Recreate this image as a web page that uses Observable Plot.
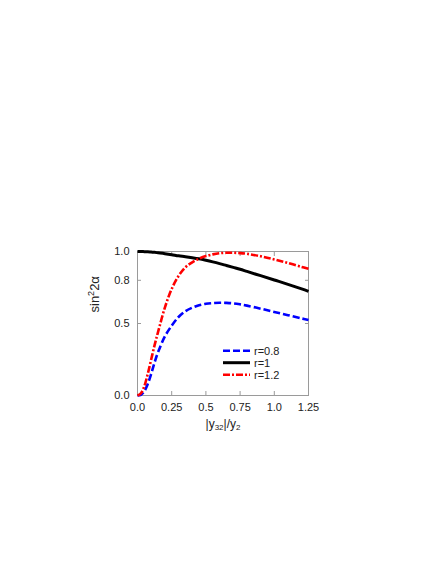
<!DOCTYPE html>
<html><head><meta charset="utf-8">
<script src="https://cdn.jsdelivr.net/npm/d3@7"></script>
<script src="https://cdn.jsdelivr.net/npm/@observablehq/plot@0.6"></script>
<style>
body{margin:0;background:#fff;}
#wrap{position:relative;width:436px;height:564px;font-family:"Liberation Sans",Arial,sans-serif;}
#legend{position:absolute;left:0;top:0;pointer-events:none;}
</style></head><body><div id="wrap"></div>
<script>
// ---- data ----
const xValues = [0,0.025,0.05,0.075,0.1,0.125,0.15,0.2,0.25,0.3,0.35,0.4,0.45,0.5,0.55,0.6,0.65,0.7,0.75,0.8,0.9,1.0,1.1,1.2,1.25];
const r08 = [0,0.005,0.03,0.08,0.15,0.23,0.30,0.41,0.485,0.545,0.585,0.61,0.627,0.637,0.642,0.644,0.643,0.64,0.633,0.624,0.603,0.58,0.558,0.535,0.524];
const r10 = [1.0,1.0,0.999,0.998,0.996,0.994,0.991,0.985,0.978,0.97,0.964,0.957,0.949,0.939,0.928,0.916,0.903,0.89,0.877,0.862,0.832,0.802,0.772,0.74,0.723];
const r12 = [0,0.015,0.065,0.15,0.25,0.35,0.44,0.61,0.74,0.83,0.89,0.925,0.95,0.968,0.98,0.988,0.991,0.991,0.989,0.984,0.967,0.945,0.92,0.893,0.88];
const seriesNames = ["r=0.8","r=1","r=1.2"];
const xTicks = [0,0.25,0.5,0.75,1,1.25];
const xTickLabels = ["0.0","0.25","0.5","0.75","1.0","1.25"];
const yTicks = [0,0.5,0.8,1];
const yTickLabels = ["0.0","0.5","0.8","1.0"];
const xLabel = "|y32|/y2";
const yLabel = "sin22α";

// ---- styles ----
const seriesStyles = [
  {stroke:"#0000ff", dash:"7,3", width:2.6},
  {stroke:"#000000", dash:null, width:3},
  {stroke:"#ff0000", dash:"7,2,2,2", width:2.6}
];
const allSeries = [r08, r10, r12];
const rows = allSeries.flatMap((ys, s) => xValues.map((x, i) => ({series: seriesNames[s], x, y: ys[i]})));

const W = 436, H = 564;
const mL = 137, mR = 128, mT = 251, mB = 169;

const lineMarks = seriesNames.map((name, s) =>
  Plot.line(rows.filter(d => d.series === name), {
    x: "x", y: "y", curve: "catmull-rom",
    stroke: seriesStyles[s].stroke, strokeWidth: seriesStyles[s].width,
    strokeDasharray: seriesStyles[s].dash, strokeLinecap: "butt"
  })
);

const chart = Plot.plot({
  width: W, height: H,
  marginTop: mT, marginBottom: mB, marginLeft: mL, marginRight: mR,
  style: {fontFamily: "'Liberation Sans', Arial, sans-serif", fontSize: "11px", color: "#222", background: "white", overflow: "visible"},
  x: {domain: [0, 1.25]},
  y: {domain: [0, 1]},
  marks: [
    Plot.frame({stroke: "#9a9a9a", strokeWidth: 1}),
    Plot.axisX({anchor: "bottom", ticks: xTicks, tickFormat: d => xTickLabels[xTicks.indexOf(d)], tickSize: -4, tickPadding: 12, stroke: "#9a9a9a", fill: "#222", label: null}),
    Plot.axisX({anchor: "top", ticks: xTicks, tickFormat: () => "", tickSize: -4, stroke: "#9a9a9a", label: null}),
    Plot.axisY({anchor: "left", ticks: yTicks, tickFormat: d => yTickLabels[yTicks.indexOf(d)], tickSize: -4, tickPadding: 12, stroke: "#9a9a9a", fill: "#222", label: null}),
    Plot.axisY({anchor: "right", ticks: yTicks, tickFormat: () => "", tickSize: -4, stroke: "#9a9a9a", label: null}),
    ...lineMarks,
    Plot.text([xLabel], {text: d => d, frameAnchor: "bottom", dy: 32, fontSize: 12, fill: "#222", className: "xlab"}),
    Plot.text([yLabel], {text: d => d, frameAnchor: "left", rotate: -90, dx: -43, dy: -11, fontSize: 13, fill: "#222", className: "ylab"})
  ]
});

const wrap = document.getElementById("wrap");
wrap.appendChild(chart);

// sub/superscripts in axis labels
{
  const xt = d3.select(chart).select(".xlab text");
  xt.text(null);
  xt.append("tspan").text("|y");
  xt.append("tspan").attr("font-size", "8px").attr("dy", "2.5").text("32");
  xt.append("tspan").attr("dy", "-2.5").text("|/y");
  xt.append("tspan").attr("font-size", "8px").attr("dy", "2.5").text("2");
  const yt = d3.select(chart).select(".ylab text");
  yt.text(null);
  yt.append("tspan").text("sin");
  yt.append("tspan").attr("font-size", "9px").attr("dy", "-5").text("2");
  yt.append("tspan").attr("dy", "5").text("2α");
}

// legend overlay
const leg = d3.select(wrap).append("svg").attr("id", "legend").attr("width", W).attr("height", H);
const legX0 = 223, legX1 = 250, legY0 = 350.7, legDy = 12;
seriesNames.forEach((name, s) => {
  const y = legY0 + s * legDy;
  leg.append("line").attr("x1", legX0).attr("x2", legX1).attr("y1", y).attr("y2", y)
    .attr("stroke", seriesStyles[s].stroke).attr("stroke-width", seriesStyles[s].width)
    .attr("stroke-dasharray", seriesStyles[s].dash);
  leg.append("text").attr("x", legX1 + 4).attr("y", y).attr("dy", "0.35em")
    .attr("font-family", "'Liberation Sans', Arial, sans-serif").attr("font-size", 11).attr("fill", "#222").text(name);
});
</script>
</body></html>
